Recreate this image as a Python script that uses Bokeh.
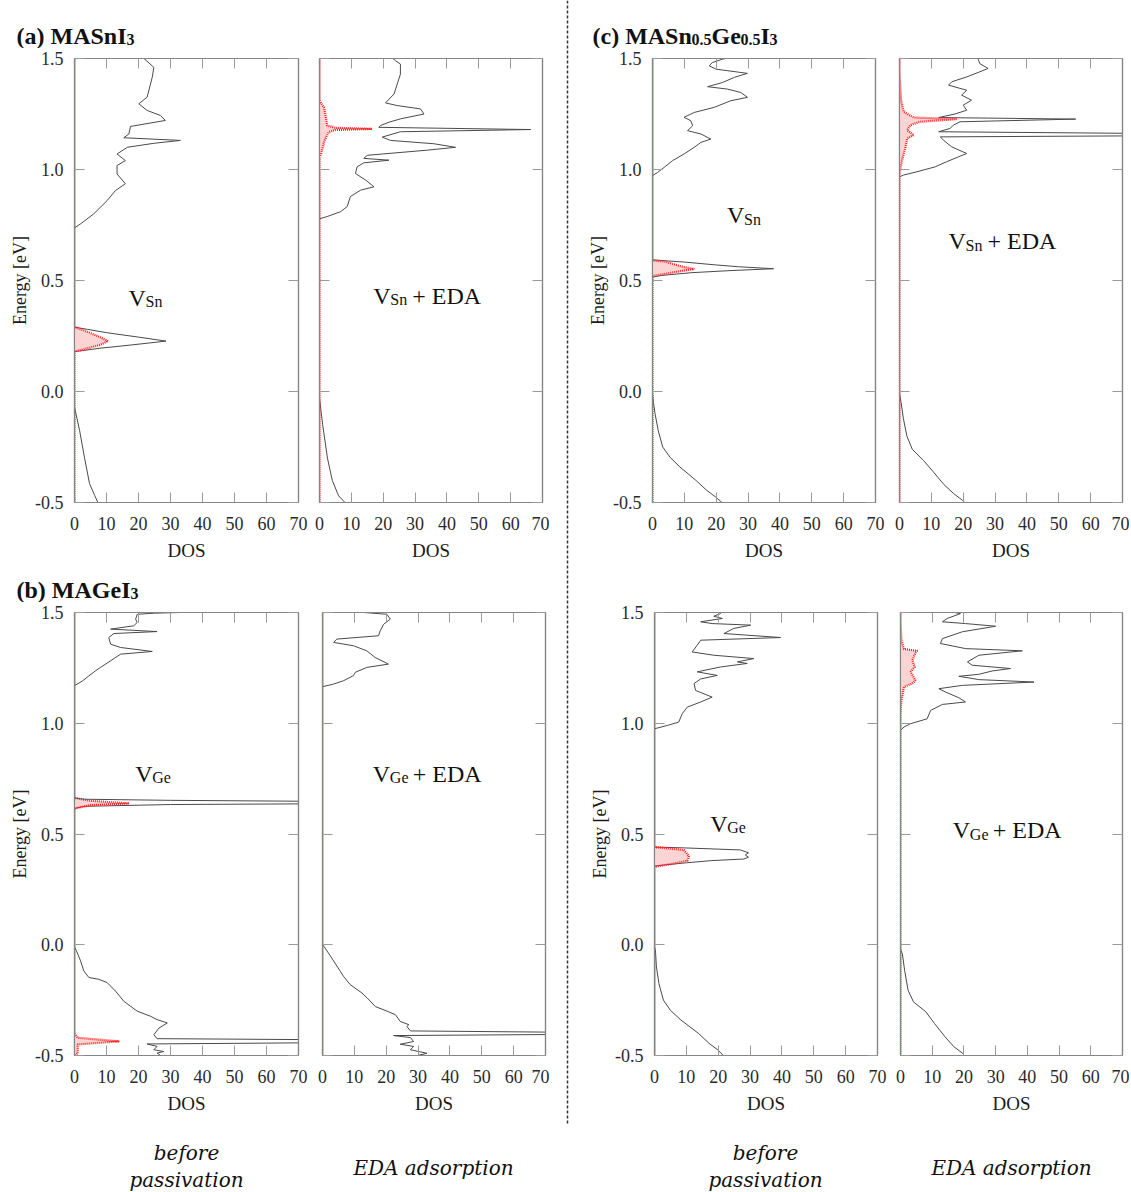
from bokeh.plotting import figure
from bokeh.models import LinearAxis, FixedTicker, NumeralTickFormatter, Label, Span, Range1d
from bokeh.layouts import row, column
from bokeh.embed import file_html
from bokeh.resources import INLINE

# ---------------- data ----------------
X_TICKS = [0, 10, 20, 30, 40, 50, 60, 70]
Y_TICKS = [-0.5, 0.0, 0.5, 1.0, 1.5]

# (a) MASnI3, V_Sn (before passivation)
A1_TOT_E = [1.5, 1.46, 1.416, 1.326, 1.296, 1.266, 1.243, 1.221, 1.194, 1.16, 1.143, 1.131, 1.118, 1.10,
            1.07, 1.04, 1.018, 0.98, 0.936, 0.905, 0.86, 0.80, 0.755, 0.737,
            0.29, 0.28, 0.265, 0.245, 0.227, 0.21, 0.195, 0.185, 0.18,
            -0.07, -0.176, -0.296, -0.415, -0.468, -0.5]
A1_TOT_D = [21.7, 24.8, 24.3, 22.7, 20.1, 22.7, 26.9, 28.4, 17.5, 17.0, 15.4, 33.1, 24.8, 16.5,
            13.3, 15.9, 13.3, 13.3, 15.9, 12.8, 10.2, 6.0, 1.9, 0,
            0, 4, 10, 20, 28.6, 18, 8, 3, 0,
            0, 1.6, 3.1, 4.7, 6.3, 7.3]
A1_PD_E = [1.5, 0.29, 0.275, 0.245, 0.227, 0.21, 0.19, 0.18, -0.5]
A1_PD_D = [0, 0, 3, 8, 10.5, 8, 3, 0, 0]

# (a) MASnI3, V_Sn + EDA
A2_TOT_E = [1.5, 1.49, 1.475, 1.43, 1.385, 1.34, 1.30, 1.288, 1.273, 1.25, 1.228, 1.213, 1.198, 1.19,
            1.18, 1.17, 1.146, 1.131, 1.116, 1.10, 1.087, 1.064, 1.05, 1.042, 1.03, 1.012, 0.982,
            0.952, 0.922, 0.907, 0.878, 0.833, 0.81, 0.788, 0.778,
            -0.03, -0.15, -0.3, -0.4, -0.47, -0.5]
A2_TOT_D = [23, 23.9, 25.4, 25.4, 24.4, 23.4, 20.7, 24.4, 31.7, 32.8, 25.4, 21.8, 19.2, 18.6,
            66.3, 25.4, 19.7, 22.3, 35.9, 42.7, 33.8, 15, 13.9, 21.8, 13.9, 11.8, 11.3,
            14.5, 17.1, 12.9, 9.7, 8.7, 6.6, 2.4, 0,
            0, 1, 2.5, 4, 6, 8]
A2_PD_E = [1.5, 1.31, 1.28, 1.243, 1.198, 1.188, 1.183, 1.178, 1.169, 1.131, 1.07, 1.056, -0.5]
A2_PD_D = [0, 0, 1.4, 1.9, 2.4, 5, 16.5, 5, 2.9, 1.6, 0.5, 0, 0]

# (b) MAGeI3, V_Ge
B1_TOT_E = [1.51, 1.497, 1.492, 1.47, 1.455, 1.44, 1.425, 1.414, 1.405, 1.387, 1.357, 1.342, 1.324,
            1.312, 1.282, 1.252, 1.237, 1.214, 1.19, 1.17,
            0.663, 0.657, 0.652, 0.648, 0.642, 0.636, 0.633, 0.625, 0.615,
            -0.01, -0.027, -0.073, -0.118, -0.148, -0.156, -0.171, -0.209, -0.255, -0.30, -0.323,
            -0.338, -0.353, -0.376, -0.406, -0.424, -0.428, -0.435, -0.443, -0.448, -0.459, -0.474,
            -0.482, -0.489, -0.5]
B1_TOT_D = [60, 25, 19.6, 19.1, 19.6, 18.5, 11.3, 25.8, 12.3, 10.7, 11.3, 14.4, 24.3,
            14.4, 11.3, 8.1, 6.6, 4.5, 2.4, 0,
            0, 3, 30, 70, 110, 70, 30, 3, 0,
            0, 0.6, 1.9, 2.9, 4.5, 7.6, 10.2, 12.8, 15.4, 19.6, 23.8,
            25.8, 29, 26.4, 24.8, 25.8, 70, 120, 70, 22.7, 25.8, 24.8,
            27.9, 25.8, 26.9]
B1_PD_E = [1.5, 0.663, 0.65, 0.638, 0.63, 0.615, -0.40, -0.42, -0.436, -0.45, -0.49, -0.5]
B1_PD_D = [0, 0, 5, 17, 5, 0, 0, 1, 14, 1, 1, 0]

# (b) MAGeI3, V_Ge + EDA
B2_TOT_E = [1.5, 1.492, 1.47, 1.447, 1.417, 1.395, 1.38, 1.365, 1.35, 1.327, 1.297, 1.267, 1.252,
            1.23, 1.215, 1.192, 1.177, 1.165,
            0.0, -0.008, -0.06, -0.12, -0.143, -0.18, -0.218, -0.24, -0.279, -0.30, -0.316, -0.346,
            -0.361, -0.369, -0.389, -0.395, -0.40, -0.405, -0.41, -0.419, -0.437, -0.449, -0.459,
            -0.474, -0.49, -0.5]
B2_TOT_D = [13, 20.2, 21.3, 19.2, 18.1, 17.6, 4.5, 3.5, 9.7, 13.9, 16.5, 20.7, 13.9,
            10.3, 9.7, 6.6, 3.5, 0,
            0, 0.5, 2.9, 5.6, 6.6, 8.7, 12.4, 14, 16.6, 20.3, 22.9, 24.4,
            27.1, 26.5, 27.6, 75, 110, 75, 22.3, 27.6, 28.6, 24.4, 28.6,
            27.6, 32.8, 29.7]
B2_PD_E = [1.5, -0.5]
B2_PD_D = [0, 0]

# (c) MASn0.5Ge0.5I3, V_Sn
C1_TOT_E = [1.5, 1.497, 1.482, 1.467, 1.452, 1.445, 1.433, 1.415, 1.392, 1.373, 1.362, 1.347, 1.325,
            1.31, 1.28, 1.257, 1.235, 1.22, 1.197, 1.175, 1.16, 1.137, 1.122, 1.10, 1.07, 1.04,
            1.01, 0.987, 0.972,
            0.593, 0.588, 0.583, 0.57, 0.562, 0.553, 0.545, 0.535, 0.523, 0.515,
            -0.01, -0.05, -0.1, -0.176, -0.25, -0.296, -0.34, -0.40, -0.445, -0.475, -0.5]
C1_TOT_D = [23, 22, 18.8, 17.8, 19.9, 23.6, 29.8, 25.7, 22, 17.3, 23.6, 27.7, 29.8,
            24.6, 19.4, 13.1, 9.9, 12, 12.6, 11, 15.2, 18.3, 15.2, 13.1, 9.9, 6.3,
            3.7, 1.6, 0,
            0, 5, 10, 20, 27, 38, 25, 12, 3, 0,
            0, 0.3, 0.8, 1.8, 3.2, 5.5, 8.6, 13.6, 17, 19.8, 21.8]
C1_PD_E = [1.5, 0.59, 0.585, 0.568, 0.56, 0.552, 0.54, 0.53, 0.52, -0.5]
C1_PD_D = [0, 0, 4, 7.9, 10, 13.1, 8, 4, 0, 0]

# (c) MASn0.5Ge0.5I3, V_Sn + EDA
C2_TOT_E = [1.5, 1.497, 1.477, 1.455, 1.44, 1.417, 1.395, 1.38, 1.357, 1.335, 1.312, 1.29, 1.267,
            1.25, 1.234, 1.227, 1.215, 1.20, 1.185, 1.17, 1.162, 1.157, 1.152, 1.147, 1.132, 1.102,
            1.072, 1.057, 1.035, 1.012, 0.99, 0.975, 0.967,
            -0.01, -0.05, -0.12, -0.2, -0.26, -0.31, -0.36, -0.42, -0.46, -0.49, -0.5]
C2_TOT_D = [24.5, 24.7, 25.2, 27.8, 25.2, 21.1, 16.4, 15.4, 21.1, 19.5, 22.6, 20, 21.1,
            17.4, 12.3, 55.3, 19, 16.9, 15.9, 12.3, 80, 110, 80, 12.8, 13.8, 16.4,
            21.1, 18.5, 14.8, 11.2, 5.5, 1.3, 0,
            0, 0.5, 1.2, 2.3, 4, 7.5, 10.5, 14, 17, 19.8, 20.5]
C2_PD_E = [1.5, 1.43, 1.312, 1.26, 1.234, 1.227, 1.215, 1.20, 1.177, 1.155, 1.14, 1.102, 1.042, 0.982, -0.5]
C2_PD_D = [0, 0, 0.5, 1.3, 4.5, 18, 6.5, 3.4, 2.4, 4.5, 2.4, 1.9, 0.8, 0, 0]

# (c) MASn0.5Ge0.5I3, V_Ge
D1_TOT_E = [1.5, 1.495, 1.483, 1.473, 1.458, 1.45, 1.443, 1.428, 1.405, 1.387, 1.375, 1.352, 1.322,
            1.307, 1.292, 1.277, 1.27, 1.254, 1.232, 1.216, 1.20, 1.179, 1.148, 1.118, 1.096,
            1.073, 1.043, 1.005, 0.99, 0.975,
            0.441, 0.437, 0.428, 0.415, 0.405, 0.395, 0.387, 0.38, 0.37, 0.36, 0.355,
            -0.01, -0.027, -0.10, -0.176, -0.25, -0.296, -0.34, -0.40, -0.445, -0.475, -0.5]
D1_TOT_D = [21, 20.7, 18.6, 21.3, 14.5, 18.1, 30.2, 24.9, 21.8, 39.6, 14.5, 13.4, 11.8,
            18.6, 31.2, 26, 29.1, 20.7, 13.4, 19.7, 14.5, 12.4, 12.9, 18.1, 14.5,
            10.3, 8.7, 7.6, 4, 0,
            0, 10, 27, 29.5, 28.5, 29.5, 28, 18, 10, 3, 0,
            0, 0.3, 0.6, 1.4, 2.8, 5, 8.3, 13.8, 17.1, 19.9, 21.6]
D1_PD_E = [1.5, 0.441, 0.428, 0.40, 0.379, 0.364, 0.352, -0.5]
D1_PD_D = [0, 0, 9.2, 10.8, 10.3, 5, 0, 0]

# (c) MASn0.5Ge0.5I3, V_Ge + EDA
D2_TOT_E = [1.5, 1.495, 1.473, 1.458, 1.45, 1.438, 1.413, 1.382, 1.36, 1.337, 1.327, 1.307, 1.277,
            1.262, 1.247, 1.236, 1.221, 1.212, 1.197, 1.186, 1.171, 1.156, 1.141, 1.115, 1.096,
            1.085, 1.058, 1.02, 0.998, 0.983, 0.968,
            -0.02, -0.042, -0.116, -0.206, -0.258, -0.303, -0.355, -0.415, -0.46, -0.49, -0.5]
D2_TOT_D = [17, 18.9, 14.7, 13.2, 20.5, 30, 19.5, 13.2, 12.6, 20.5, 38.4, 24.7, 21.1,
            22.6, 34.7, 28.9, 24.7, 18.4, 24.7, 42.1, 19.5, 12.1, 14.2, 18.4, 20.5,
            13.2, 9.5, 8.4, 3.2, 1.1, 0,
            0, 0.6, 1.3, 2.4, 4.1, 8, 10.7, 14, 16.8, 19.6, 20.1]
D2_PD_E = [1.5, 1.45, 1.375, 1.335, 1.327, 1.32, 1.284, 1.254, 1.232, 1.194, 1.179, 1.164, 1.103, 1.043, -0.5]
D2_PD_D = [0, 0, 0.3, 1.1, 5.3, 4.8, 3.7, 4.5, 3.2, 4.7, 3.7, 1.1, 0.3, 0, 0]

# ---------------- style ----------------
SERIF = "Liberation Serif"
ITAL = "DejaVu Serif"
FRAME = "#858585"
TICKC = "#9a9a9a"
GRAY = "#4a4a4a"
RED = "#ff2222"
PINK = "#fcd4d4"
TXT = "#111111"


def style_axis(ax, labels):
    ax.axis_line_color = FRAME
    ax.axis_line_width = 1.2
    ax.major_tick_line_color = TICKC
    ax.major_tick_in = 10
    ax.major_tick_out = 0
    ax.minor_tick_line_color = None
    ax.minor_tick_in = 0
    ax.minor_tick_out = 0
    if labels:
        ax.major_label_text_font = SERIF
        ax.major_label_text_font_size = "18px"
        ax.major_label_text_color = "#2a2a2a"
        ax.axis_label_text_font = SERIF
        ax.axis_label_text_font_style = "normal"
        ax.axis_label_text_color = "#1a1a1a"
    else:
        ax.major_label_text_color = None
        ax.major_label_standoff = 0
        ax.axis_label = None


def add_text(p, x, y, text, size, dx=0, dy=0, style="normal", font=SERIF, align="left"):
    p.add_layout(Label(x=x, y=y, text=text, x_offset=dx, y_offset=dy, text_font=font,
                       text_font_size=f"{size}px", text_font_style=style, text_color=TXT,
                       text_align=align, text_baseline="alphabetic"))


BOTTOM_BORDER = 66


def panel(tot_e, tot_d, pd_e, pd_d, show_y, bl, br, fw, fh):
    p = figure(frame_width=fw, frame_height=fh, x_range=Range1d(0, 70), y_range=Range1d(-0.5, 1.5),
               output_backend="svg", toolbar_location=None,
               min_border_left=bl, min_border_right=br, min_border_top=10,
               min_border_bottom=BOTTOM_BORDER)
    p.grid.visible = False
    p.outline_line_color = FRAME
    p.outline_line_width = 1.2
    p.background_fill_color = "white"
    p.border_fill_color = "white"

    p.harea(y=pd_e, x1=[0] * len(pd_e), x2=pd_d, fill_color=PINK, fill_alpha=1.0)
    p.line(tot_d, tot_e, line_color=GRAY, line_width=1.0)
    p.line(pd_d, pd_e, line_color=RED, line_width=2.2, line_dash="1 1")

    xa = p.below[0]
    xa.ticker = FixedTicker(ticks=X_TICKS)
    style_axis(xa, True)
    xa.axis_label = "DOS"
    xa.axis_label_text_font_size = "19px"
    xa.major_label_standoff = 14
    xa.axis_label_standoff = 7

    ya = p.left[0]
    ya.ticker = FixedTicker(ticks=Y_TICKS)
    if show_y:
        style_axis(ya, True)
        ya.formatter = NumeralTickFormatter(format="0.0")
        ya.axis_label = "Energy [eV]"
        ya.axis_label_text_font_size = "18px"
        ya.major_label_standoff = 11
        ya.axis_label_standoff = 2
    else:
        style_axis(ya, False)

    top = LinearAxis(ticker=FixedTicker(ticks=X_TICKS))
    style_axis(top, False)
    p.add_layout(top, "above")
    right = LinearAxis(ticker=FixedTicker(ticks=Y_TICKS))
    style_axis(right, False)
    p.add_layout(right, "right")
    return p


def text_box(w, h):
    p = figure(frame_width=w, frame_height=h, x_range=Range1d(0, w), y_range=Range1d(h, 0),
               output_backend="svg", toolbar_location=None, x_axis_location=None, y_axis_location=None,
               min_border_left=0, min_border_right=0, min_border_top=0, min_border_bottom=0)
    p.grid.visible = False
    p.outline_line_color = None
    p.background_fill_color = "white"
    p.border_fill_color = "white"
    return p


def defect_label(p, x, y, site, eda):
    add_text(p, x, y, "V", 24)
    add_text(p, x, y, site, 16, dx=17, dy=-4)
    if eda:
        add_text(p, x, y, "+ EDA", 24, dx=39 if site == "Sn" else 40)


TOP_H, BOT_H = 444, 443
LEFT_W, RIGHT_W = 549, 544

a1 = panel(A1_TOT_E, A1_TOT_D, A1_PD_E, A1_PD_D, True, 74, 10, 224, TOP_H)
a2 = panel(A2_TOT_E, A2_TOT_D, A2_PD_E, A2_PD_D, False, 11, 7, 223, TOP_H)
b1 = panel(B1_TOT_E, B1_TOT_D, B1_PD_E, B1_PD_D, True, 74, 10, 224, BOT_H)
b2 = panel(B2_TOT_E, B2_TOT_D, B2_PD_E, B2_PD_D, False, 14, 4, 223, BOT_H)
c1 = panel(C1_TOT_E, C1_TOT_D, C1_PD_E, C1_PD_D, True, 67, 12, 223, TOP_H)
c2 = panel(C2_TOT_E, C2_TOT_D, C2_PD_E, C2_PD_D, False, 12, 7, 223, TOP_H)
d1 = panel(D1_TOT_E, D1_TOT_D, D1_PD_E, D1_PD_D, True, 69, 10, 223, BOT_H)
d2 = panel(D2_TOT_E, D2_TOT_D, D2_PD_E, D2_PD_D, False, 13, 7, 222, BOT_H)

# defect labels
defect_label(a1, 16.9, 0.423, "Sn", False)
defect_label(a2, 16.9, 0.432, "Sn", True)
defect_label(b1, 19.0, 0.772, "Ge", False)
defect_label(b2, 15.8, 0.772, "Ge", True)
defect_label(c1, 23.4, 0.793, "Sn", False)
defect_label(c2, 15.4, 0.676, "Sn", True)
defect_label(d1, 17.5, 0.546, "Ge", False)
defect_label(d2, 16.5, 0.516, "Ge", True)

# panel titles
TA_H, TB_H, CAP_H = 48, 34, 71
title_a = text_box(LEFT_W, TA_H)
add_text(title_a, 16, 35, "(a) MASnI", 24, style="bold")
add_text(title_a, 16 + 110, 35, "3", 16, dy=-4, style="bold")
title_b = text_box(LEFT_W, TB_H)
add_text(title_b, 16, 21, "(b) MAGeI", 24, style="bold")
add_text(title_b, 16 + 114, 21, "3", 16, dy=-4, style="bold")
title_c = text_box(RIGHT_W, TA_H)
add_text(title_c, 7, 35, "(c) MASn", 24, style="bold")
add_text(title_c, 7 + 99, 35, "0.5", 16, dy=-4, style="bold")
add_text(title_c, 7 + 119, 35, "Ge", 24, style="bold")
add_text(title_c, 7 + 148, 35, "0.5", 16, dy=-4, style="bold")
add_text(title_c, 7 + 168, 35, "I", 24, style="bold")
add_text(title_c, 7 + 177, 35, "3", 16, dy=-4, style="bold")
title_d = text_box(RIGHT_W, TB_H)

# bottom captions
cap_l = text_box(LEFT_W, CAP_H)
add_text(cap_l, 186, 31, "before", 20, style="italic", font=ITAL, align="center")
add_text(cap_l, 186, 58, "passivation", 20, style="italic", font=ITAL, align="center")
add_text(cap_l, 433, 46, "EDA adsorption", 20, style="italic", font=ITAL, align="center")
cap_r = text_box(RIGHT_W, CAP_H)
add_text(cap_r, 180, 31, "before", 20, style="italic", font=ITAL, align="center")
add_text(cap_r, 180, 58, "passivation", 20, style="italic", font=ITAL, align="center")
add_text(cap_r, 426, 46, "EDA adsorption", 20, style="italic", font=ITAL, align="center")

# dashed separator
sep = figure(frame_width=36, frame_height=1125, x_range=Range1d(0, 1), y_range=Range1d(0, 1),
             output_backend="svg", toolbar_location=None, x_axis_location=None, y_axis_location=None,
             min_border_left=0, min_border_right=0, min_border_top=0, min_border_bottom=65)
sep.grid.visible = False
sep.outline_line_color = None
sep.add_layout(Span(location=0.5, dimension="height", line_color="#333333",
                    line_dash="3 2", line_width=1.5))

left = column(title_a, row(a1, a2), title_b, row(b1, b2), cap_l)
right = column(title_c, row(c1, c2), title_d, row(d1, d2), cap_r)
layout = row(left, sep, right)

open("out.html", "w").write(file_html(layout, INLINE, "DOS"))
